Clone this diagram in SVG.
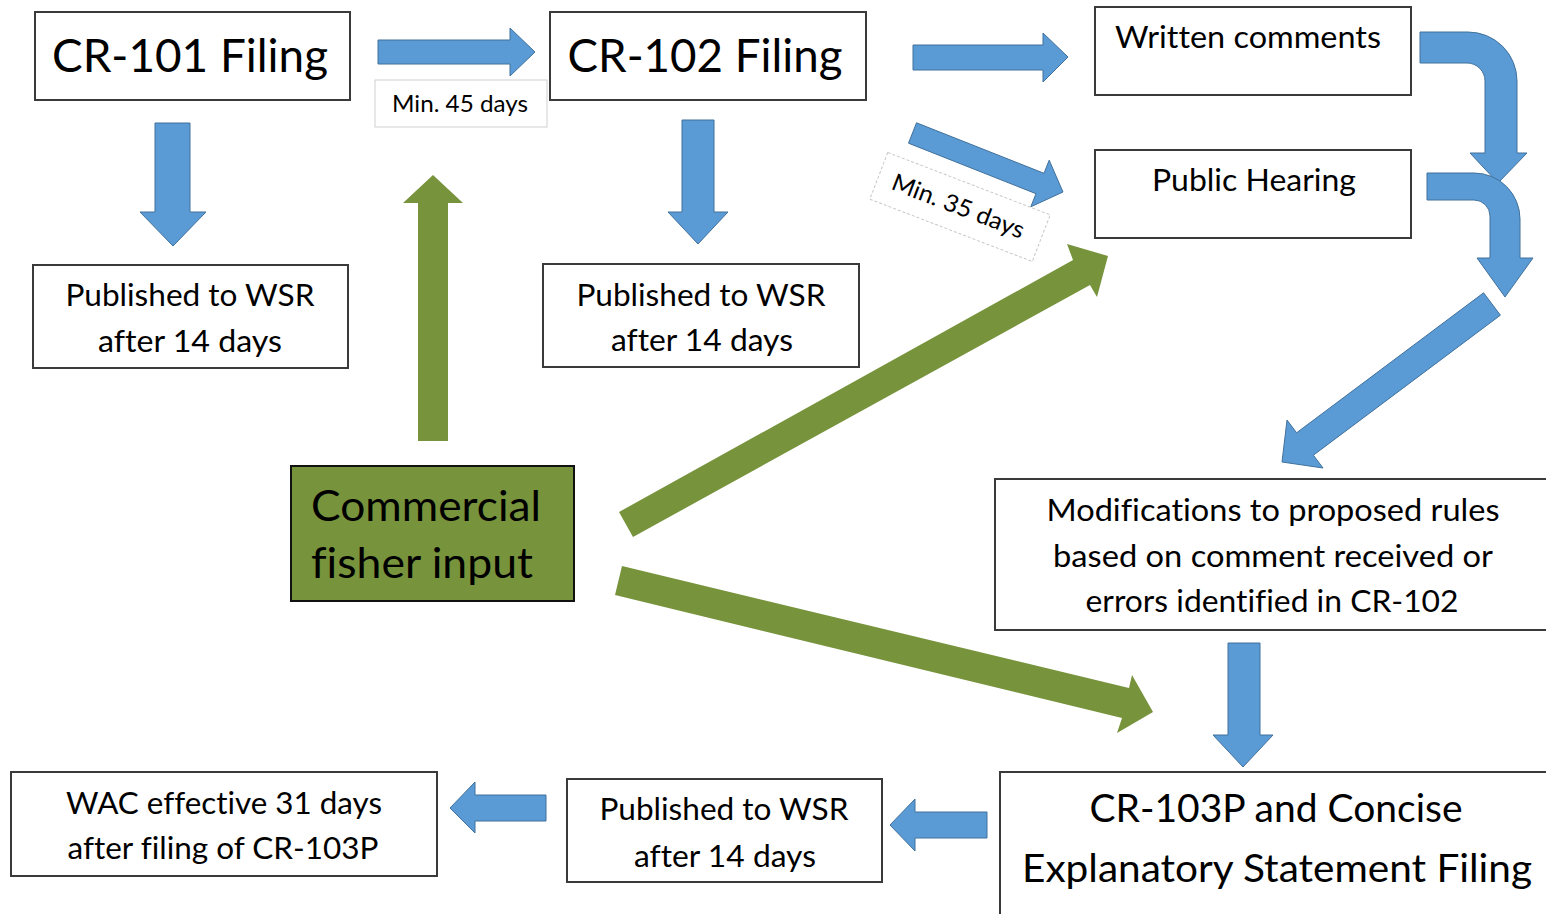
<svg xmlns="http://www.w3.org/2000/svg" width="1546" height="914" viewBox="0 0 1546 914">
<style>
.box{fill:#fff;stroke:#3a3a3a;stroke-width:2}
.gbox{fill:#77933C;stroke:#111;stroke-width:2}
.lbl{fill:#fff;stroke:#d0d0d0;stroke-width:1}
.lbld{fill:#fff;stroke:#c8c8c8;stroke-width:1;stroke-dasharray:3 2}
.t{font-family:Lato,"Noto Sans","Liberation Sans",sans-serif;fill:#000;text-anchor:middle;font-variant-ligatures:none;font-feature-settings:"liga" 0,"clig" 0}
.tl{font-family:Lato,"Noto Sans","Liberation Sans",sans-serif;fill:#000;font-variant-ligatures:none;font-feature-settings:"liga" 0,"clig" 0}
.ba{fill:#5B9BD5;stroke:#41719C;stroke-width:1}
.ga{fill:#77933C;stroke:none}
</style>
<rect width="1546" height="914" fill="#fff"/>
<g id="connectors">
  <polygon class="ba" points="378,40 510,40 510,28 535,52 510,76 510,64 378,64"/>
  <polygon class="ba" points="913,45 1043,45 1043,33 1068,57 1043,82 1043,70 913,70"/>
  <polygon class="ba" points="155,123 190,123 190,212 206,212 173,246 140,212 155,212"/>
  <polygon class="ba" points="682,120 714,120 714,212 728,212 698,244 668,212 682,212"/>
  <polygon class="ba" points="1228,643 1260,643 1260,735 1273,735 1243,767 1213,735 1228,735"/>
  <polygon class="ba" points="546,795 475,795 475,782 450,808 475,833 475,821 546,821"/>
  <polygon class="ba" points="987,812 915,812 915,799 890,825 915,851 915,838 987,838"/>
  <polygon class="ba" points="916.5,122.8 1044,173.3 1049.2,160.2 1063,192 1030.8,206.8 1036,193.7 908.5,143.2"/>
  <polygon class="ba" points="1483.6,292.8 1296.6,432.8 1287,420 1282,462 1323,468 1313.4,455.2 1500.4,315.2"/>
  <path class="ba" d="M1420,32 L1468,32 A49,49 0 0 1 1517,81 L1517,153 L1527,153 L1498,183 L1470,153 L1485,153 L1485,81 A18,18 0 0 0 1467,63 L1420,63 Z"/>
  <path class="ba" d="M1427,173 L1474,173 A46,46 0 0 1 1520,219 L1520,258 L1533,258 L1505,297 L1477,258 L1490,258 L1490,216 A16,16 0 0 0 1474,200 L1427,200 Z"/>
  <polygon class="ga" points="418,441 448,441 448,203 463,203 433,175 403,203 418,203"/>
  <polygon class="ga" points="619,512 1073,260 1067,244 1108,256 1097,297 1090,285 633,537"/>
  <polygon class="ga" points="622,566 1129,688 1132,675 1153,712 1117,733 1122,718 615,595"/>
</g>
<g id="label-min45">
  <rect class="lbl" x="375" y="80" width="172" height="47"/>
  <text class="t" x="460" y="112" font-size="23.5" textLength="136" lengthAdjust="spacingAndGlyphs">Min. 45 days</text>
</g>
<g id="label-min35" transform="translate(960,207) rotate(21)">
  <rect class="lbld" x="-87" y="-25" width="174" height="50"/>
  <text class="t" x="-2" y="8" font-size="24" textLength="140" lengthAdjust="spacingAndGlyphs">Min. 35 days</text>
</g>
<g id="cr101">
  <rect class="box" x="35" y="12" width="315" height="88"/>
  <text class="t" x="190" y="72" font-size="47" textLength="276" lengthAdjust="spacingAndGlyphs">CR-101 Filing</text>
</g>
<g id="cr102">
  <rect class="box" x="550" y="12" width="316" height="88"/>
  <text class="t" x="705" y="72" font-size="47" textLength="275" lengthAdjust="spacingAndGlyphs">CR-102 Filing</text>
</g>
<g id="written-comments">
  <rect class="box" x="1095" y="7" width="316" height="88"/>
  <text class="t" x="1248" y="48" font-size="31" textLength="266" lengthAdjust="spacingAndGlyphs">Written comments</text>
</g>
<g id="public-hearing">
  <rect class="box" x="1095" y="150" width="316" height="88"/>
  <text class="t" x="1254" y="191" font-size="31" textLength="204" lengthAdjust="spacingAndGlyphs">Public Hearing</text>
</g>
<g id="published-1">
  <rect class="box" x="33" y="265" width="315" height="103"/>
  <text class="t" x="190" y="306" font-size="31" textLength="249" lengthAdjust="spacingAndGlyphs">Published to WSR</text>
  <text class="t" x="190" y="352" font-size="31" textLength="184" lengthAdjust="spacingAndGlyphs">after 14 days</text>
</g>
<g id="published-2">
  <rect class="box" x="543" y="264" width="316" height="103"/>
  <text class="t" x="701" y="306" font-size="31" textLength="249" lengthAdjust="spacingAndGlyphs">Published to WSR</text>
  <text class="t" x="702" y="351" font-size="31" textLength="182" lengthAdjust="spacingAndGlyphs">after 14 days</text>
</g>
<g id="commercial-fisher-input">
  <rect class="gbox" x="291" y="466" width="283" height="135"/>
  <text class="tl" x="311" y="521" font-size="42.5" textLength="230" lengthAdjust="spacingAndGlyphs">Commercial</text>
  <text class="tl" x="311" y="578" font-size="42.5" textLength="222" lengthAdjust="spacingAndGlyphs">fisher input</text>
</g>
<g id="modifications">
  <rect class="box" x="995" y="479" width="565" height="151"/>
  <text class="t" x="1273" y="521" font-size="31" textLength="453" lengthAdjust="spacingAndGlyphs">Modifications to proposed rules</text>
  <text class="t" x="1273" y="567" font-size="31" textLength="440" lengthAdjust="spacingAndGlyphs">based on comment received or</text>
  <text class="t" x="1272" y="612" font-size="31" textLength="373" lengthAdjust="spacingAndGlyphs">errors identified in CR-102</text>
</g>
<g id="cr103p">
  <rect class="box" x="1000" y="772" width="565" height="150"/>
  <text class="t" x="1276" y="822" font-size="39" textLength="373" lengthAdjust="spacingAndGlyphs">CR-103P and Concise</text>
  <text class="t" x="1277" y="882" font-size="39" textLength="510" lengthAdjust="spacingAndGlyphs">Explanatory Statement Filing</text>
</g>
<g id="published-3">
  <rect class="box" x="567" y="779" width="315" height="103"/>
  <text class="t" x="724" y="820" font-size="31" textLength="249" lengthAdjust="spacingAndGlyphs">Published to WSR</text>
  <text class="t" x="725" y="867" font-size="31" textLength="182" lengthAdjust="spacingAndGlyphs">after 14 days</text>
</g>
<g id="wac-effective">
  <rect class="box" x="11" y="772" width="426" height="104"/>
  <text class="t" x="224" y="814" font-size="31" textLength="316" lengthAdjust="spacingAndGlyphs">WAC effective 31 days</text>
  <text class="t" x="223" y="859" font-size="31" textLength="311" lengthAdjust="spacingAndGlyphs">after filing of CR-103P</text>
</g>
</svg>
